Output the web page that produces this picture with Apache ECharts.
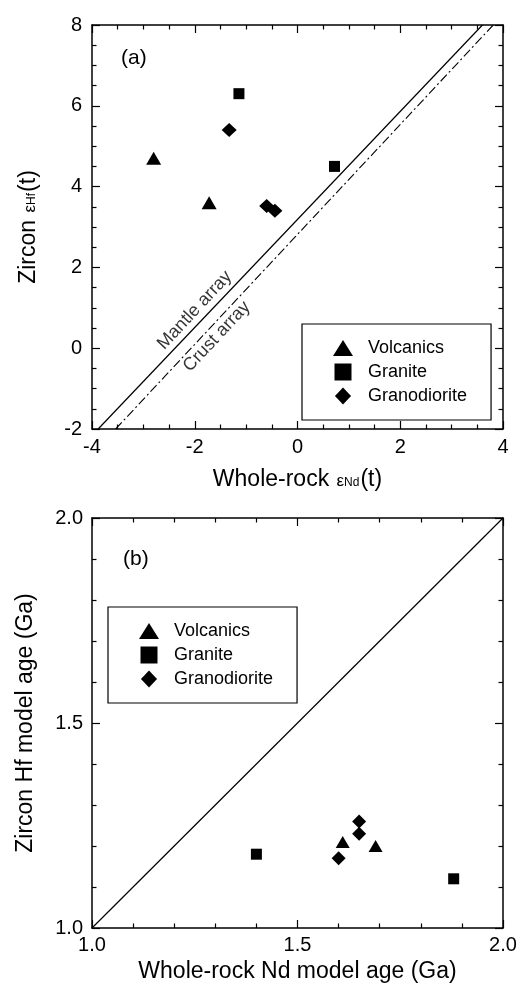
<!DOCTYPE html>
<html>
<head>
<meta charset="utf-8">
<script src="https://cdn.jsdelivr.net/npm/echarts@6/dist/echarts.min.js"></script>
<style>
  html, body { margin: 0; padding: 0; background: #ffffff; }
  .panel { width: 520px; height: 496px; }
</style>
</head>
<body>
<div class="panel" id="panelA"></div>
<div class="panel" id="panelB"></div>
<script>
// Rock types shown in both panels
const rockTypes = ['Volcanics', 'Granite', 'Granodiorite'];

// (a) whole-rock eNd(t) vs zircon eHf(t)
const volcanicsEps = [[-2.8, 4.7], [-1.72, 3.6]];
const graniteEps = [[-1.14, 6.3], [0.72, 4.5]];
const granodioriteEps = [[-1.33, 5.4], [-0.6, 3.52], [-0.44, 3.4]];
const mantleArray = [[-3.88, -2], [3.6, 8]];
const crustArray = [[-3.54, -2], [3.81, 8]];
const mantleLabelAt = [-2.0, 0.94];
const crustLabelAt = [-1.57, 0.29];
const epsTicksX = [-4, 4, 2];
const epsTicksY = [-2, 8, 2];

// (b) whole-rock Nd model age vs zircon Hf model age (Ga)
const volcanicsAge = [[1.61, 1.21], [1.69, 1.2]];
const graniteAge = [[1.4, 1.18], [1.88, 1.12]];
const granodioriteAge = [[1.6, 1.17], [1.65, 1.26], [1.65, 1.23]];
const equalAgeLine = [[1, 1], [2, 2]];
const ageTicks = [1, 2, 0.5];

const FONT = "'Liberation Sans', Arial, Helvetica, sans-serif";
const INK = '#000000';

const markerOf = {
  Volcanics: { symbol: 'triangle', size: [15, 13] },
  Granite: { symbol: 'rect', size: 11 },
  Granodiorite: { symbol: 'diamond', size: [15, 14] }
};
const legendIcons = {
  Volcanics: 'path://M10.5,0L21,17L0,17Z',
  Granite: 'path://M0,0L15,0L15,15L0,15Z',
  Granodiorite: 'path://M9,0L18,9.5L9,19L0,9.5Z'
};

// rich-text styles for axis titles with a small epsilon and subscript
const titleRich = {
  n: { fontFamily: FONT, fontSize: 23, color: INK, verticalAlign: 'bottom' },
  e: { fontFamily: FONT, fontSize: 17, color: INK, verticalAlign: 'bottom', padding: [0, 0, 1, 1] },
  s: { fontFamily: FONT, fontSize: 12, color: INK, verticalAlign: 'bottom', padding: [0, 1, 2, 0] }
};

// tick numbers are drawn through a rich style so the base label size stays small
const tickRich = { t: { fontFamily: FONT, fontSize: 20, color: INK } };

function makeAxis(ticks, minorSplit, position, showLabels, labelMargin, fmt) {
  return {
    type: 'value',
    position: position,
    min: ticks[0],
    max: ticks[1],
    interval: ticks[2],
    splitLine: { show: false },
    axisLine: { show: true, onZero: false, lineStyle: { color: INK, width: 1.5 } },
    axisTick: { show: true, inside: true, length: 8, lineStyle: { color: INK, width: 1.2 } },
    minorTick: { show: true, splitNumber: minorSplit, length: 4.5, lineStyle: { color: INK, width: 1.2 } },
    minorSplitLine: { show: false },
    axisLabel: {
      show: showLabels,
      margin: labelMargin,
      color: INK,
      fontSize: 12,
      showMinLabel: true,
      showMaxLabel: true,
      formatter: v => '{t|' + fmt(v) + '}',
      rich: tickRich
    }
  };
}

function withName(axis, name, gap, rotate) {
  axis.name = name;
  axis.nameLocation = 'middle';
  axis.nameGap = gap;
  if (rotate !== undefined) axis.nameRotate = rotate;
  axis.nameTextStyle = { fontFamily: FONT, fontSize: 23, color: INK, rich: titleRich };
  return axis;
}

const intFmt = v => String(v);
const ageFmt = v => v.toFixed(1);

function scatter(name, data, size) {
  const m = markerOf[name];
  return {
    type: 'scatter',
    name: name,
    data: data,
    symbol: m.symbol,
    symbolSize: size || m.size,
    itemStyle: { color: INK, opacity: 1 },
    z: 5
  };
}

function refLine(data, type, width) {
  return {
    type: 'line',
    data: data,
    symbol: 'none',
    silent: true,
    lineStyle: { color: INK, width: width, type: type },
    z: 3
  };
}

function lineText(text, at) {
  return {
    type: 'scatter',
    data: [at],
    symbolSize: 0,
    silent: true,
    label: {
      show: true,
      position: 'inside',
      formatter: text,
      rotate: 47,
      fontFamily: FONT,
      fontSize: 18,
      color: INK
    },
    z: 4
  };
}

function legendBox(left, top) {
  return {
    orient: 'vertical',
    left: left,
    top: top,
    data: rockTypes.map(n => ({ name: n, icon: legendIcons[n] })),
    itemWidth: 20,
    itemHeight: 17,
    itemGap: 6,
    symbolKeepAspect: true,
    selectedMode: false,
    padding: [15, 24, 15, 31],
    borderColor: INK,
    borderWidth: 1.2,
    borderRadius: 0,
    backgroundColor: '#ffffff',
    textStyle: { fontFamily: FONT, fontSize: 18, color: INK, padding: [0, 0, 0, 10] }
  };
}

function panelTitle(text, left, top) {
  return {
    text: text, left: left, top: top, padding: 0,
    textStyle: { fontFamily: FONT, fontSize: 21, fontWeight: 'normal', color: INK }
  };
}

// Panel (a): epsilon values
const optionA = {
  animation: false,
  title: panelTitle('(a)', 121, 48),
  legend: legendBox(302, 324),
  grid: { left: 92, right: 17, top: 25, bottom: 60 },
  xAxis: [
    withName(makeAxis(epsTicksX, 4, 'bottom', true, 8, intFmt), '{n|Whole-rock }{e|ε}{s|Nd}{n|(t)}', 39),
    makeAxis(epsTicksX, 4, 'top', false, 8, intFmt)
  ],
  yAxis: [
    withName(makeAxis(epsTicksY, 4, 'left', true, 10, intFmt), '{n|Zircon }{e|ε}{s|Hf}{n|(t)}', 52, 90),
    makeAxis(epsTicksY, 4, 'right', false, 8, intFmt)
  ],
  series: [
    refLine(mantleArray, 'solid', 1.2),
    refLine(crustArray, [9, 3, 2, 3], 1.1),
    lineText('Mantle array', mantleLabelAt),
    lineText('Crust array', crustLabelAt),
    scatter('Volcanics', volcanicsEps),
    scatter('Granite', graniteEps),
    scatter('Granodiorite', granodioriteEps)
  ]
};

// Panel (b): model ages
const optionB = {
  animation: false,
  title: panelTitle('(b)', 123, 53),
  legend: legendBox(108, 111),
  grid: { left: 92, right: 17, top: 22, bottom: 64 },
  xAxis: [
    withName(makeAxis(ageTicks, 5, 'bottom', true, 7, ageFmt), '{n|Whole-rock Nd model age (Ga)}', 32),
    makeAxis(ageTicks, 5, 'top', false, 8, ageFmt)
  ],
  yAxis: [
    withName(makeAxis(ageTicks, 5, 'left', true, 9, ageFmt), '{n|Zircon Hf model age (Ga)}', 55, 90),
    makeAxis(ageTicks, 5, 'right', false, 8, ageFmt)
  ],
  series: [
    refLine(equalAgeLine, 'solid', 1.2),
    scatter('Volcanics', volcanicsAge, [14, 12]),
    scatter('Granite', graniteAge),
    scatter('Granodiorite', granodioriteAge, [14, 14])
  ]
};

echarts.init(document.getElementById('panelA')).setOption(optionA);
echarts.init(document.getElementById('panelB')).setOption(optionB);
</script>
</body>
</html>
